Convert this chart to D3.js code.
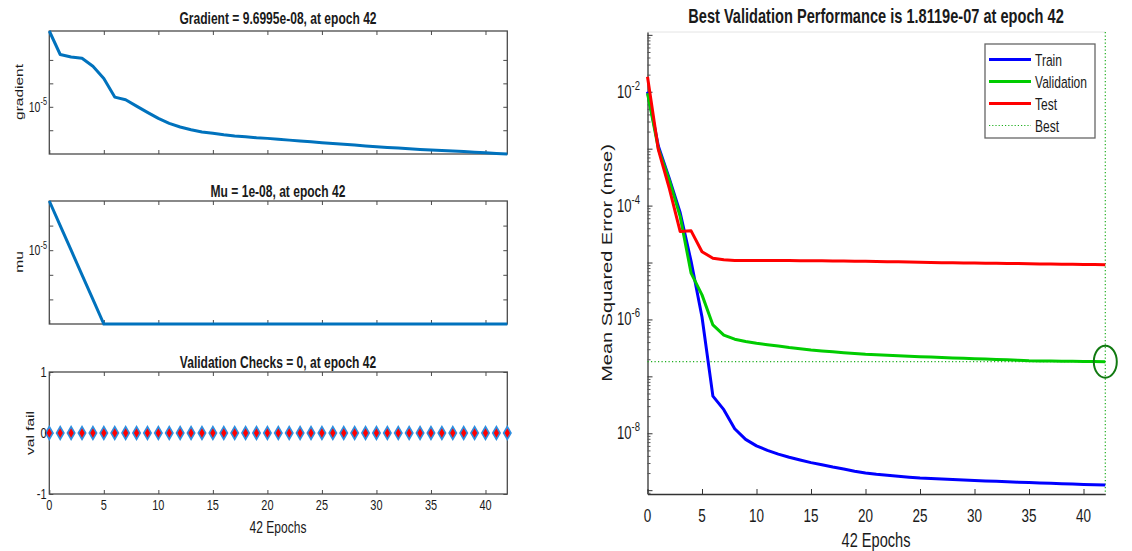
<!DOCTYPE html>
<html>
<head>
<meta charset="utf-8">
<script src="https://cdn.jsdelivr.net/npm/d3@7/dist/d3.min.js"></script>
<style>
    body { margin: 0; background: #fff; }
    svg { display: block; font-family: "Liberation Sans", Arial, sans-serif; }
</style>
</head>
<body>
<script>
// Training record, 42 epochs
const gradient = [1.71e-2, 1.7e-3, 1.34e-3, 1.18e-3, 5.4e-4, 1.62e-4, 2.59e-5, 1.99e-5, 1.07e-5, 5.78e-6,
    3.21e-6, 1.97e-6, 1.37e-6, 1.05e-6, 8.4e-7, 7.4e-7, 6.4e-7, 5.7e-7, 5.3e-7, 4.8e-7,
    4.5e-7, 4.14e-7, 3.79e-7, 3.47e-7, 3.21e-7, 2.94e-7, 2.72e-7, 2.51e-7, 2.32e-7, 2.15e-7,
    1.99e-7, 1.85e-7, 1.75e-7, 1.63e-7, 1.52e-7, 1.44e-7, 1.36e-7, 1.29e-7, 1.23e-7, 1.16e-7,
    1.10e-7, 1.03e-7, 9.6995e-8];
const mu = [1e-3, 1e-4, 1e-5, 1e-6, 1e-7, 1e-8, 1e-8, 1e-8, 1e-8, 1e-8,
    1e-8, 1e-8, 1e-8, 1e-8, 1e-8, 1e-8, 1e-8, 1e-8, 1e-8, 1e-8,
    1e-8, 1e-8, 1e-8, 1e-8, 1e-8, 1e-8, 1e-8, 1e-8, 1e-8, 1e-8,
    1e-8, 1e-8, 1e-8, 1e-8, 1e-8, 1e-8, 1e-8, 1e-8, 1e-8, 1e-8,
    1e-8, 1e-8, 1e-8];
const valFail = [0, 0, 0, 0, 0, 0, 0, 0, 0, 0, 0, 0, 0, 0, 0, 0, 0, 0, 0, 0, 0,
    0, 0, 0, 0, 0, 0, 0, 0, 0, 0, 0, 0, 0, 0, 0, 0, 0, 0, 0, 0, 0, 0];

const train = [1.0e-2, 1.1e-3, 3.0e-4, 7.5e-5, 1.05e-5, 1.1e-6, 4.5e-8, 2.6e-8, 1.2e-8, 7.8e-9,
    6.0e-9, 5.0e-9, 4.3e-9, 3.8e-9, 3.4e-9, 3.05e-9, 2.8e-9, 2.55e-9, 2.35e-9, 2.15e-9,
    2.0e-9, 1.9e-9, 1.83e-9, 1.76e-9, 1.69e-9, 1.63e-9, 1.6e-9, 1.57e-9, 1.54e-9, 1.51e-9,
    1.48e-9, 1.45e-9, 1.43e-9, 1.41e-9, 1.38e-9, 1.36e-9, 1.34e-9, 1.32e-9, 1.30e-9, 1.28e-9,
    1.26e-9, 1.24e-9, 1.23e-9];
const validation = [9.4e-3, 1.0e-3, 2.8e-4, 6.4e-5, 6.5e-6, 2.7e-6, 8.0e-7, 5.3e-7, 4.5e-7, 4.1e-7,
    3.8e-7, 3.6e-7, 3.4e-7, 3.2e-7, 3.05e-7, 2.9e-7, 2.8e-7, 2.7e-7, 2.6e-7, 2.52e-7,
    2.44e-7, 2.4e-7, 2.35e-7, 2.3e-7, 2.25e-7, 2.21e-7, 2.18e-7, 2.14e-7, 2.11e-7, 2.07e-7,
    2.04e-7, 2.01e-7, 1.98e-7, 1.95e-7, 1.91e-7, 1.88e-7, 1.87e-7, 1.86e-7, 1.85e-7, 1.84e-7,
    1.83e-7, 1.82e-7, 1.8119e-7];
const test = [1.83e-2, 9.5e-4, 2.0e-4, 3.5e-5, 3.6e-5, 1.55e-5, 1.19e-5, 1.12e-5, 1.09e-5, 1.08e-5,
    1.08e-5, 1.08e-5, 1.08e-5, 1.08e-5, 1.07e-5, 1.07e-5, 1.07e-5, 1.06e-5, 1.06e-5, 1.05e-5,
    1.05e-5, 1.04e-5, 1.03e-5, 1.03e-5, 1.02e-5, 1.01e-5, 1.0e-5, 9.95e-6, 9.9e-6, 9.85e-6,
    9.8e-6, 9.75e-6, 9.7e-6, 9.65e-6, 9.6e-6, 9.5e-6, 9.45e-6, 9.4e-6, 9.35e-6, 9.3e-6,
    9.25e-6, 9.2e-6, 9.15e-6];
const bestEpoch = 42;
const bestPerf = 1.8119e-7;

const xTicks = [0, 5, 10, 15, 20, 25, 30, 35, 40];
const gradTicks = [1e-3, 1e-4, 1e-5, 1e-6];
const muTicks = [1e-4, 1e-5, 1e-6, 1e-7];
const valTicks = [-1, 0, 1];
const perfLabelExps = [-2, -4, -6, -8];
const legendNames = ["Train", "Validation", "Test", "Best"];

const SX = 0.73;          // the picture is squeezed horizontally
const INK = "#1a1a1a";
const AX = "#4a4a4a";
const LEFT_BLUE = "#0072BD";
const BEST_GREEN = "#1fae1f";
const perfColors = ["#0000ff", "#00cc00", "#ff0000"];

const svg = d3.select("body").append("svg")
    .attr("width", 1132)
    .attr("height", 551);

function label(g, x, y, str, size, opts = {}) {
    const tf = opts.rotate
        ? `translate(${x},${y}) rotate(-90) scale(1,${SX})`
        : `translate(${x},${y}) scale(${SX},1)`;
    return g.append("text")
        .attr("transform", tf)
        .attr("text-anchor", opts.anchor || "middle")
        .attr("font-size", size)
        .attr("font-weight", opts.bold ? "bold" : null)
        .attr("fill", INK)
        .text(str);
}

function powerLabel(g, x, y, exp, size, supSize) {
    const t = g.append("text")
        .attr("transform", `translate(${x},${y}) scale(${SX},1)`)
        .attr("text-anchor", "end")
        .attr("font-size", size)
        .attr("fill", INK);
    t.append("tspan").text("10");
    t.append("tspan").attr("font-size", supSize).attr("dy", -size * 0.45).text(exp);
}

function styleAxis(g, color) {
    g.select(".domain").remove();
    g.selectAll("line").attr("stroke", color).attr("stroke-width", 1);
}

// ---------- left column ----------
const x = d3.scaleLinear().domain([0, 42]).range([49.3, 507.3]);

const yGrad = d3.scaleLog().domain([9.6995e-8, 1.71e-2]).range([154, 31]);
const yMu = d3.scaleLog().domain([1e-8, 1e-3]).range([324, 201]);
const yVal = d3.scaleLinear().domain([-1, 1]).range([494, 372]);

function leftFrame(y, yTicks) {
    const [bottom, top] = y.range();
    const g = svg.append("g");
    g.append("rect")
        .attr("x", x(0)).attr("y", top)
        .attr("width", x(42) - x(0)).attr("height", bottom - top)
        .attr("fill", "none").attr("stroke", AX).attr("stroke-width", 1.3);
    g.append("g").attr("transform", `translate(0,${bottom})`)
        .call(d3.axisBottom(x).tickValues(xTicks).tickSize(-4).tickFormat(""))
        .call(styleAxis, AX);
    g.append("g").attr("transform", `translate(0,${top})`)
        .call(d3.axisTop(x).tickValues(xTicks).tickSize(-4).tickFormat(""))
        .call(styleAxis, AX);
    g.append("g").attr("transform", `translate(${x(0)},0)`)
        .call(d3.axisLeft(y).tickValues(yTicks).tickSize(-4).tickFormat(""))
        .call(styleAxis, AX);
    g.append("g").attr("transform", `translate(${x(42)},0)`)
        .call(d3.axisRight(y).tickValues(yTicks).tickSize(-4).tickFormat(""))
        .call(styleAxis, AX);
    return g;
}

// Gradient
const gGrad = leftFrame(yGrad, gradTicks);
gGrad.append("path")
    .datum(gradient)
    .attr("fill", "none")
    .attr("stroke", LEFT_BLUE)
    .attr("stroke-width", 3)
    .attr("stroke-linejoin", "round")
    .attr("d", d3.line().x((d, i) => x(i)).y(d => yGrad(d)));
label(svg, 278, 24, "Gradient = 9.6995e-08, at epoch 42", 16.5, { bold: true });
label(svg, 22.5, 92, "gradient", 15.5, { rotate: true });
powerLabel(svg, 47, yGrad(1e-5) + 5, "-5", 14.5, 10);

// Mu
const gMu = leftFrame(yMu, muTicks);
gMu.append("path")
    .datum(mu)
    .attr("fill", "none")
    .attr("stroke", LEFT_BLUE)
    .attr("stroke-width", 3)
    .attr("d", d3.line().x((d, i) => x(i)).y(d => yMu(d)));
label(svg, 278, 196.5, "Mu = 1e-08, at epoch 42", 16.5, { bold: true });
label(svg, 22.5, 262, "mu", 15.5, { rotate: true });
powerLabel(svg, 47, yMu(1e-5) + 5, "-5", 14.5, 10);

// Validation checks
const gVal = leftFrame(yVal, valTicks);
gVal.selectAll(".vf")
    .data(valFail)
    .enter()
    .append("path")
    .attr("class", "vf")
    .attr("transform", (d, i) => `translate(${x(i)},${yVal(d)})`)
    .attr("d", d3.symbol().type(d3.symbolDiamond).size(46))
    .attr("fill", "#ff0000")
    .attr("stroke", "#2f8fe0")
    .attr("stroke-width", 1.7);
label(svg, 278, 367.5, "Validation Checks = 0, at epoch 42", 16.5, { bold: true });
label(svg, 33.5, 433, "val fail", 15.5, { rotate: true });
valTicks.forEach(t => {
    label(svg, 46.5, yVal(t) + 5, String(t), 15, { anchor: "end" });
});
xTicks.forEach(t => {
    label(svg, x(t), 510, String(t), 15);
});
label(svg, 278, 533, "42 Epochs", 16.5);

// ---------- performance panel ----------
const xR = d3.scaleLinear().domain([0, 42]).range([647.5, 1105.3]);
const yPerf = d3.scaleLog()
    .domain([Math.pow(10, -9.067), Math.pow(10, -0.95)])
    .range([494, 32]);

const decades = [];
const minors = [];
for (let e = -10; e <= 0; e++) {
    const v = Math.pow(10, e);
    if (v >= yPerf.domain()[0] && v <= yPerf.domain()[1]) decades.push(v);
    for (let m = 2; m <= 9; m++) {
        const w = m * v;
        if (w >= yPerf.domain()[0] && w <= yPerf.domain()[1]) minors.push(w);
    }
}

const gP = svg.append("g");

// faint top edge
gP.append("line")
    .attr("x1", xR(0)).attr("x2", xR(42))
    .attr("y1", 32).attr("y2", 32)
    .attr("stroke", "#e4e4e4");

gP.append("g").attr("transform", "translate(0,494)")
    .call(d3.axisBottom(xR).tickValues(xTicks).tickSize(-5).tickSizeOuter(0).tickFormat(""))
    .call(g => g.select(".domain").attr("stroke", "#333").attr("stroke-width", 1.3))
    .call(g => g.selectAll("line").attr("stroke", "#333"));

gP.append("g").attr("transform", `translate(${xR(0)},0)`)
    .call(d3.axisLeft(yPerf).tickValues(decades).tickSize(-5).tickSizeOuter(0).tickFormat(""))
    .call(g => g.select(".domain").attr("stroke", "#333").attr("stroke-width", 1.3))
    .call(g => g.selectAll("line").attr("stroke", "#333"));

gP.append("g").attr("transform", `translate(${xR(0)},0)`)
    .call(d3.axisLeft(yPerf).tickValues(minors).tickSize(-3).tickFormat(""))
    .call(styleAxis, "#555");

// best markers
const bestY = yPerf(bestPerf);
gP.append("line")
    .attr("x1", xR(0)).attr("x2", xR(42))
    .attr("y1", bestY).attr("y2", bestY)
    .attr("stroke", BEST_GREEN).attr("stroke-width", 1.2)
    .attr("stroke-dasharray", "1.2,2.3");
gP.append("line")
    .attr("x1", xR(bestEpoch)).attr("x2", xR(bestEpoch))
    .attr("y1", 32).attr("y2", 494)
    .attr("stroke", BEST_GREEN).attr("stroke-width", 1.2)
    .attr("stroke-dasharray", "1.2,2.3");

const perfLine = d3.line().x((d, i) => xR(i)).y(d => yPerf(d));
[train, validation, test].forEach((series, k) => {
    gP.append("path")
        .datum(series)
        .attr("fill", "none")
        .attr("stroke", perfColors[k])
        .attr("stroke-width", 3)
        .attr("stroke-linejoin", "round")
        .attr("d", perfLine);
});

gP.append("ellipse")
    .attr("cx", xR(bestEpoch)).attr("cy", bestY)
    .attr("rx", 11.5).attr("ry", 16)
    .attr("fill", "none")
    .attr("stroke", "#117a11")
    .attr("stroke-width", 2);

// tick labels and titles
perfLabelExps.forEach(e => {
    powerLabel(svg, 640, yPerf(Math.pow(10, e)) + 6, String(e), 18, 13);
});
xTicks.forEach(t => {
    label(svg, xR(t), 521.5, String(t), 18.5);
});
label(svg, 876, 547, "42 Epochs", 20);
label(svg, 876, 23, "Best Validation Performance is 1.8119e-07 at epoch 42", 20, { bold: true });
label(svg, 612, 263, "Mean Squared Error  (mse)", 20, { rotate: true });

// legend
const lg = svg.append("g");
lg.append("rect")
    .attr("x", 985).attr("y", 44)
    .attr("width", 110).attr("height", 94)
    .attr("fill", "#fff")
    .attr("stroke", "#666")
    .attr("stroke-width", 1.3);
legendNames.forEach((name, i) => {
    const ly = 59.5 + i * 22;
    const isBest = name === "Best";
    lg.append("line")
        .attr("x1", 989).attr("x2", 1031)
        .attr("y1", ly).attr("y2", ly)
        .attr("stroke", isBest ? BEST_GREEN : perfColors[i])
        .attr("stroke-width", isBest ? 1.2 : 3)
        .attr("stroke-dasharray", isBest ? "1.2,2" : null);
    label(lg, 1035, ly + 6, name, 16.5, { anchor: "start" });
});
</script>
</body>
</html>
